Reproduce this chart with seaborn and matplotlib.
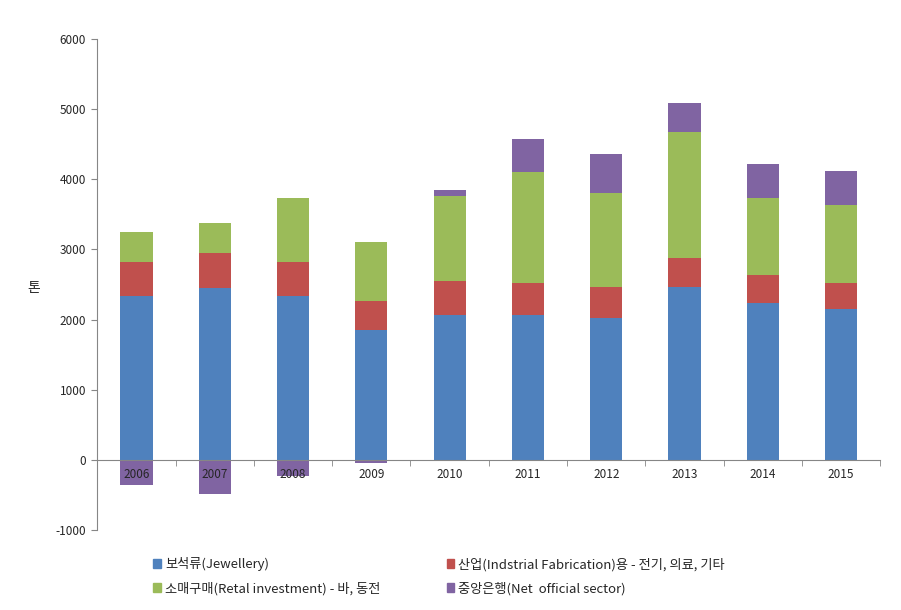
import matplotlib
matplotlib.use("Agg")
import matplotlib.pyplot as plt
from matplotlib.patches import Patch
import seaborn as sns
import pandas as pd
import numpy as np

# values in tonnes
years = ["2006", "2007", "2008", "2009", "2010", "2011", "2012", "2013", "2014", "2015"]
jewellery = [2337, 2451, 2337, 1853, 2062, 2062, 2028, 2466, 2237, 2157]
industrial = [480, 494, 480, 417, 484, 465, 438, 417, 404, 370]
retail = [432, 432, 912, 837, 1216, 1573, 1344, 1796, 1088, 1107]
official = [-361, -485, -228, -38, 86, 470, 551, 404, 484, 484]

labels = [
    "보석류(Jewellery)",
    "산업(Indstrial Fabrication)용 - 전기, 의료, 기타",
    "소매구매(Retal investment) - 바, 동전",
    "중앙은행(Net  official sector)",
]
colors = ["#4F81BD", "#C0504D", "#9BBB59", "#8064A2"]

sns.set_style("white")
plt.rcParams["font.family"] = ["Noto Sans CJK KR", "DejaVu Sans"]
plt.rcParams["axes.unicode_minus"] = False

df = pd.DataFrame({
    "year": years,
    "jew": jewellery,
    "ind": industrial,
    "ret": retail,
    "off": official,
})
off = np.array(official)
df["c1"] = df["jew"]
df["c2"] = df["c1"] + df["ind"]
df["c3"] = df["c2"] + df["ret"]
df["c4"] = df["c3"] + np.where(off > 0, off, 0)
df["neg"] = np.where(off < 0, off, 0)

fig = plt.figure(figsize=(9.01, 6.10), dpi=100)
ax = fig.add_axes([0.108, 0.131, 0.869, 0.805])

w = 0.41
# draw cumulative totals from the top layer down so each layer shows its own slice
for col, c in zip(["c4", "c3", "c2", "c1"], [colors[3], colors[2], colors[1], colors[0]]):
    sns.barplot(data=df, x="year", y=col, color=c, width=w, saturation=1,
                linewidth=0, ax=ax)
sns.barplot(data=df, x="year", y="neg", color=colors[3], width=w, saturation=1,
            linewidth=0, ax=ax)

ax.set_axisbelow(False)
ax.set_xlim(-0.5, len(years) - 0.5)
ax.set_ylim(-1000, 6000)
ax.set_yticks(range(-1000, 6001, 1000))
ax.tick_params(axis="y", labelsize=8.5, length=4, left=True, color="#868686", pad=4)
ax.tick_params(axis="x", which="major", labelsize=8.5, length=0, pad=6)
ax.set_xticks(np.arange(-0.5, len(years)), minor=True)
ax.tick_params(axis="x", which="minor", length=4, bottom=True, color="#868686")

for s in ["top", "right"]:
    ax.spines[s].set_visible(False)
ax.spines["left"].set_color("#868686")
ax.spines["bottom"].set_color("#868686")
ax.spines["bottom"].set_position(("data", 0))

ax.set_xlabel("")
ax.set_ylabel("")
fig.text(0.037, 0.528, "톤", fontsize=10, ha="center", va="center")

handles = [Patch(color=colors[0]), Patch(color=colors[2]),
           Patch(color=colors[1]), Patch(color=colors[3])]
leg_labels = [labels[0], labels[2], labels[1], labels[3]]
fig.legend(handles, leg_labels, ncol=2, loc="upper left",
           bbox_to_anchor=(0.157, 0.106), frameon=False, fontsize=9.5,
           handlelength=0.6, handleheight=0.6, handletextpad=0.3,
           columnspacing=5.0, labelspacing=0.8)

fig.savefig("out.png", dpi=100)
